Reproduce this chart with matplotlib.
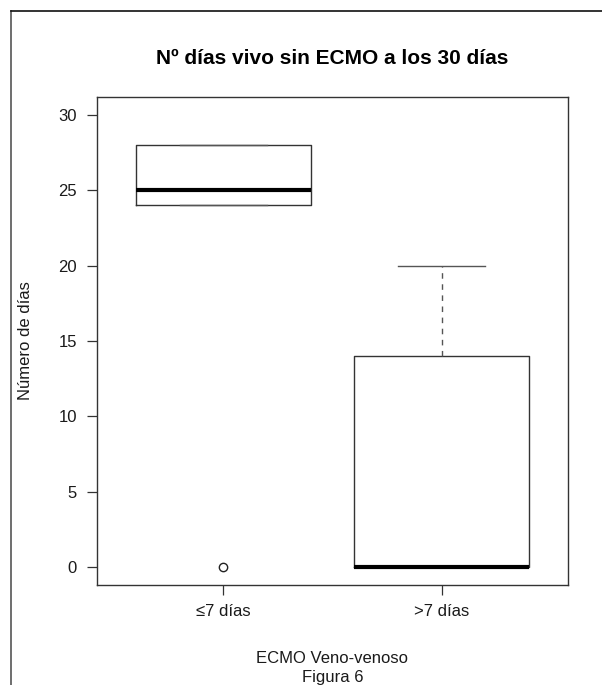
import matplotlib
matplotlib.use("Agg")
import matplotlib.pyplot as plt
from matplotlib.lines import Line2D

plt.rcParams['font.family'] = ['Liberation Sans', 'DejaVu Sans']

# Box statistics per group (days alive without ECMO at day 30)
groups = ['≤7 días', '>7 días']
q1 = [24, 0]
medians = [25, 0]
q3 = [28, 14]
whisker_low = [24, 0]
whisker_high = [28, 20]
outliers = [[0], []]

stats = []
for i in range(len(groups)):
    stats.append({'label': groups[i], 'q1': q1[i], 'med': medians[i], 'q3': q3[i],
                  'whislo': whisker_low[i], 'whishi': whisker_high[i],
                  'fliers': outliers[i]})

fig = plt.figure(figsize=(6.02, 6.85), dpi=100)
ax = fig.add_axes([97 / 602, 1 - 585 / 685, (568 - 97) / 602, (585 - 97) / 685])

line_col = '#333333'
ax.bxp(stats, positions=[1, 2], widths=0.8, capwidths=0.4,
       boxprops=dict(color=line_col, linewidth=1.0),
       medianprops=dict(color='black', linewidth=3.0, solid_capstyle='butt'),
       whiskerprops=dict(color='#555555', linewidth=1.0, linestyle=(0, (4, 4))),
       capprops=dict(color='#555555', linewidth=1.0),
       flierprops=dict(marker='o', markersize=6, markerfacecolor='none',
                       markeredgecolor='#222222', markeredgewidth=1.0))

ax.set_xlim(0.42, 2.58)
ax.set_ylim(-1.2, 31.2)
ax.set_yticks([0, 5, 10, 15, 20, 25, 30])
ax.set_xticks([1, 2])
ax.set_xticklabels(groups)

for s in ax.spines.values():
    s.set_color(line_col)
    s.set_linewidth(1.0)
ax.tick_params(axis='both', direction='out', length=7, width=0.9, color=line_col,
               labelsize=12, labelcolor='#1a1a1a')
ax.tick_params(axis='y', pad=7.5)
ax.tick_params(axis='x', pad=7)

ax.set_title('Nº días vivo sin ECMO a los 30 días', fontsize=15, fontweight='bold',
             pad=24)
ax.set_ylabel('Número de días', fontsize=12, color='#1a1a1a', labelpad=18)
ax.set_xlabel('ECMO Veno-venoso\nFigura 6', fontsize=12, color='#1a1a1a',
              labelpad=23, linespacing=1.3)

# frame around the whole figure (left and top edges visible)
fig.add_artist(Line2D([11 / 602, 11 / 602], [0, 1 - 11 / 685], color='#555555',
                      linewidth=1.2, transform=fig.transFigure))
fig.add_artist(Line2D([11 / 602, 1], [1 - 11 / 685, 1 - 11 / 685], color='#111111',
                      linewidth=1.2, transform=fig.transFigure))

fig.savefig('out.png', dpi=100)
